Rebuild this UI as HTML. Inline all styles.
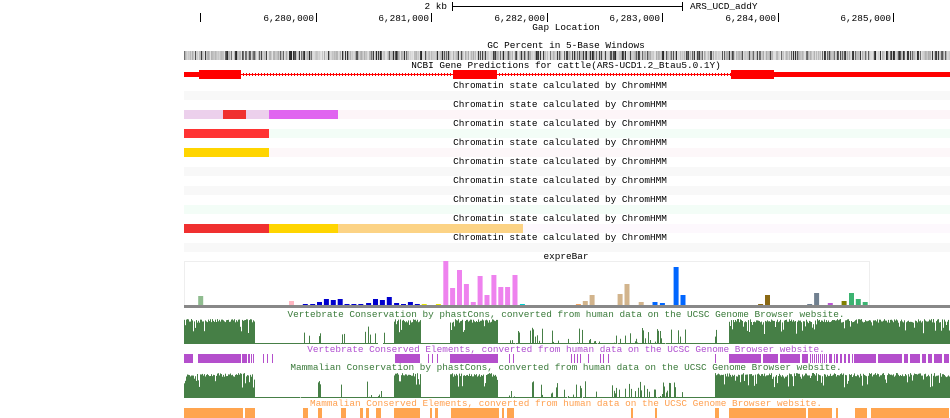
<!DOCTYPE html>
<html><head><meta charset="utf-8">
<style>
html,body{margin:0;padding:0;background:#fff;}
svg{display:block;}
text{font-family:"Liberation Mono",monospace;font-size:9.4px;}
</style></head>
<body>
<svg id="s" width="950" height="418" xmlns="http://www.w3.org/2000/svg">
<rect width="950" height="418" fill="#fff"/>
<!-- ruler -->
<text x="447" y="9" text-anchor="end">2 kb</text>
<line x1="452.5" y1="2" x2="452.5" y2="11" stroke="#000"/>
<line x1="682.5" y1="2" x2="682.5" y2="11" stroke="#000"/>
<line x1="452" y1="6.5" x2="682" y2="6.5" stroke="#000"/>
<text x="690" y="9">ARS_UCD_addY</text>
<line x1="200.5" y1="13" x2="200.5" y2="22" stroke="#000"/>
<g text-anchor="end">
<text x="314" y="21">6,280,000</text><line x1="316.5" y1="13" x2="316.5" y2="22" stroke="#000"/>
<text x="429" y="21">6,281,000</text><line x1="431.5" y1="13" x2="431.5" y2="22" stroke="#000"/>
<text x="545" y="21">6,282,000</text><line x1="547.5" y1="13" x2="547.5" y2="22" stroke="#000"/>
<text x="660" y="21">6,283,000</text><line x1="662.5" y1="13" x2="662.5" y2="22" stroke="#000"/>
<text x="776" y="21">6,284,000</text><line x1="778.5" y1="13" x2="778.5" y2="22" stroke="#000"/>
<text x="891" y="21">6,285,000</text><line x1="893.5" y1="13" x2="893.5" y2="22" stroke="#000"/>
</g>
<g text-anchor="middle">
<text x="566" y="30">Gap Location</text>
<text x="566" y="48">GC Percent in 5-Base Windows</text>
<text x="566" y="68">NCBI Gene Predictions for cattle(ARS-UCD1.2_Btau5.0.1Y)</text>
</g>
<g id="gc"></g>
<!-- gene -->
<rect x="184" y="72" width="766" height="5" fill="#f00"/>
<rect x="241" y="72" width="212" height="5" fill="#fff"/>
<rect x="497" y="72" width="234" height="5" fill="#fff"/>
<line x1="241" y1="74.5" x2="453" y2="74.5" stroke="#f00"/>
<line x1="497" y1="74.5" x2="731" y2="74.5" stroke="#f00"/>
<g id="hash"></g>
<rect x="199" y="70" width="42" height="9" fill="#f00"/>
<rect x="453" y="70" width="44" height="9" fill="#f00"/>
<rect x="731" y="70" width="43" height="9" fill="#f00"/>
<g id="chrom"></g>
<!-- expreBar -->
<text x="566" y="259" text-anchor="middle">expreBar</text>
<rect x="184.5" y="261.5" width="685" height="44" fill="none" stroke="#eee"/>
<rect x="184" y="305" width="766" height="3" fill="#888"/>
<g id="bars"></g>
<text x="566" y="317" text-anchor="middle" fill="#3a7a3a">Vertebrate Conservation by phastCons, converted from human data on the UCSC Genome Browser website.</text>
<g id="vc"></g>
<text x="566" y="352" text-anchor="middle" fill="#b050d0">Vertebrate Conserved Elements, converted from human data on the UCSC Genome Browser website.</text>
<g id="ve"></g>
<text x="566" y="370" text-anchor="middle" fill="#3a7a3a">Mammalian Conservation by phastCons, converted from human data on the UCSC Genome Browser website.</text>
<g id="mc"></g>
<text x="566" y="406" text-anchor="middle" fill="#ffa050">Mammalian Conserved Elements, converted from human data on the UCSC Genome Browser website.</text>
<g id="me"></g>
</svg>
<script>
(function(){
var NS="http://www.w3.org/2000/svg";
function R(g,x,y,w,h,f){var r=document.createElementNS(NS,"rect");r.setAttribute("x",x);r.setAttribute("y",y);r.setAttribute("width",w);r.setAttribute("height",h);r.setAttribute("fill",f);document.getElementById(g).appendChild(r);}
function T(g,x,y,s){var t=document.createElementNS(NS,"text");t.setAttribute("x",x);t.setAttribute("y",y);t.setAttribute("text-anchor","middle");t.textContent=s;document.getElementById(g).appendChild(t);}
var seed=7;function rnd(){seed=(seed*16807)%2147483647;return seed/2147483647;}
// GC
for(var x=184;x<950;x++){var v=rnd();var c=v<0.25?Math.floor(40+rnd()*80):Math.floor(170+rnd()*60);R("gc",x,51,1,9,"rgb("+c+","+c+","+c+")");}
// hash
for(var x=243;x<453;x+=3)R("hash",x,73,1,3,"#f00");
for(var x=499;x<731;x+=3)R("hash",x,73,1,3,"#f00");
// chromatin rows
var bg=["#f8f8f8","#fdf5f8","#f3fdf7","#fdf7f9","#f8f8f8","#f8f8f8","#f3fdf7","#fdf8fd","#f8f8f8"];
for(var i=0;i<9;i++){var top=91+i*19;T("chrom",560,top-3,"Chromatin state calculated by ChromHMM");R("chrom",184,top,766,9,bg[i]);}
var top2=91+19,top3=91+38,top4=91+57,top8=91+7*19;
R("chrom",184,top2,39,9,"#ecd0ec");R("chrom",223,top2,23,9,"#f03030");R("chrom",246,top2,23,9,"#ecd0ec");R("chrom",269,top2,69,9,"#e065f0");
R("chrom",184,top3,85,9,"#ff3333");
R("chrom",184,top4,85,9,"#ffd500");
R("chrom",184,top8,85,9,"#f03030");R("chrom",269,top8,69,9,"#ffd500");R("chrom",338,top8,185,9,"#fcd385");
// bars: [zx_start, zy_top, color]
var B=[[37,138,"#8fbc8f"],[222,153,"#ffb6c1"],
[250,162,"#0000cd"],[265,162,"#0000cd"],[279,156,"#0000cd"],[293,147,"#0000cd"],[307,150,"#0000cd"],[321,147,"#0000cd"],[335,162,"#0000cd"],[349,162,"#0000cd"],[363,162,"#0000cd"],[379,159,"#0000cd"],[393,147,"#0000cd"],[407,150,"#0000cd"],[421,141,"#0000cd"],[436,159,"#0000cd"],[450,162,"#0000cd"],[464,156,"#0000cd"],[478,162,"#0000cd"],[492,162,"#e6e600"],[521,162,"#e6e600"],
[536,33,"#ee82ee"],[550,114,"#ee82ee"],[564,60,"#ee82ee"],[578,102,"#ee82ee"],[592,156,"#ee82ee"],[606,78,"#ee82ee"],[620,135,"#ee82ee"],[634,75,"#ee82ee"],[648,111,"#ee82ee"],[662,111,"#ee82ee"],[677,75,"#ee82ee"],[692,162,"#00ced1"],
[806,162,"#f4a460"],[820,153,"#d2b48c"],[834,135,"#d2b48c"],[891,132,"#d2b48c"],[905,102,"#d2b48c"],[934,156,"#d2b48c"],
[962,156,"#0066ff"],[977,159,"#0066ff"],[1005,51,"#0066ff"],[1019,135,"#0066ff"],
[1177,162,"#8b6914"],[1191,135,"#8b6914"],[1277,162,"#708090"],[1291,129,"#708090"],[1319,159,"#ba55d3"],[1347,153,"#808000"],[1362,129,"#3cb371"],[1376,147,"#3cb371"],[1390,156,"#3cb371"]];
B.forEach(function(b){var x=180+b[0]/2.036;var y=250+b[1]/3;R("bars",x.toFixed(1),y.toFixed(1),5,(305-y).toFixed(1),b[2]);});
// conservation
var dense=[[184,255],[394,421],[450,498],[729,950]];
var spikes=[[300,310],[318,322],[340,346],[365,385],[507,520],[530,600],[610,690],[715,720]];
function inR(x,a){for(var i=0;i<a.length;i++)if(x>=a[i][0]&&x<a[i][1])return true;return false;}
function cons(g,y0,h,ex){for(var x=184;x<950;x++){var v;if(inR(x,dense)||(ex&&x>=715&&x<729))v=rnd()<0.15?0.4+rnd()*0.5:0.85+rnd()*0.15;else if(inR(x,spikes))v=rnd()<0.3?rnd()*0.7:0.04;else v=0.04;if(x>=378&&x<383&&g=="vc")v=0;R(g,x,(y0+h*(1-v)).toFixed(1),1,(h*v).toFixed(1),"#467f46");}}
cons("vc",319,25,false);cons("mc",373,25,true);
// elements
var VE=[[184,193],[198,241],[242,247],[248,250],[251,252],[253,254],[263,264],[267,268],[272,273],[395,420],[428,429],[432,433],[437,438],[450,498],[509,510],[513,514],[571,572],[574,575],[577,578],[580,581],[588,589],[600,601],[603,604],[608,609],[715,716],[729,761],[763,778],[780,800],[802,808],[810,811],[812,813],[814,815],[816,817],[818,819],[820,821],[822,823],[824,825],[826,827],[829,832],[834,835],[836,838],[840,842],[844,846],[848,850],[852,853],[854,876],[878,902],[904,908],[910,920],[922,926],[928,932],[934,942],[944,949]];
VE.forEach(function(e){R("ve",e[0],354,e[1]-e[0],9,"#b44fcc");});
var ME=[[184,243],[245,255],[303,308],[318,322],[341,346],[360,363],[366,369],[376,381],[394,420],[430,432],[435,438],[451,499],[502,504],[507,514],[631,633],[655,657],[715,719],[729,806],[808,832],[836,838],[855,867],[871,949]];
ME.forEach(function(e){R("me",e[0],408,e[1]-e[0],10,"#ffa54f");});
})();
</script>
</body></html>
